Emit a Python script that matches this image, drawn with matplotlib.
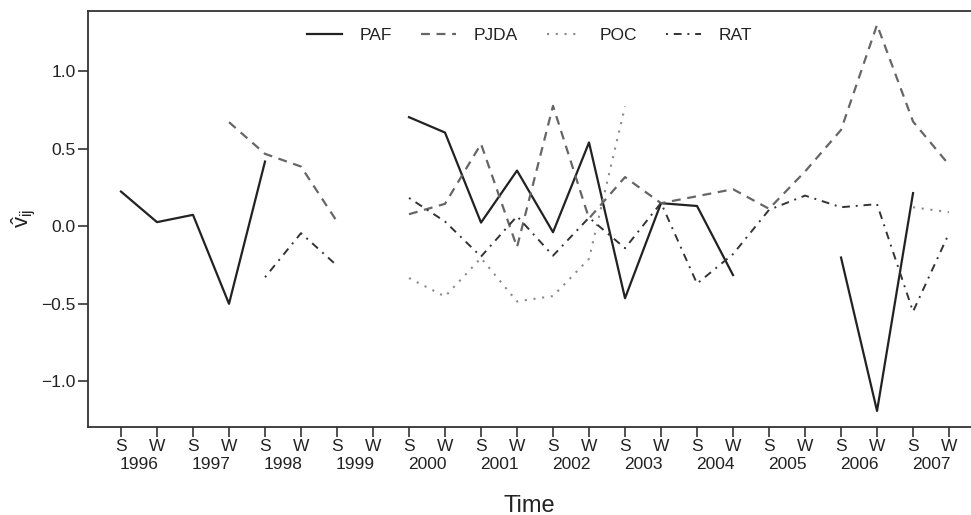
import numpy as np
import matplotlib
matplotlib.use("Agg")
import matplotlib.pyplot as plt
from matplotlib.transforms import blended_transform_factory

nan = np.nan
years = list(range(1996, 2008))
seasons = ["S", "W"]
tick_labels = [s for y in years for s in seasons]

PAF = [0.223, 0.026, 0.073, -0.50, 0.416, nan, nan, nan,
       0.702, 0.603, 0.023, 0.358, -0.039, 0.539, -0.464, 0.148,
       0.130, -0.315, nan, nan, -0.202, -1.19, 0.213, nan]
PJDA = [nan, nan, nan, 0.67, 0.466, 0.384, 0.03, nan,
        0.077, 0.144, 0.53, -0.135, 0.775, 0.05, 0.316, 0.148,
        0.193, 0.238, 0.112, 0.352, 0.62, 1.297, 0.674, 0.395]
POC = [nan, nan, nan, nan, nan, nan, nan, nan,
       -0.334, -0.453, -0.205, -0.485, -0.45, -0.21, 0.771, nan,
       nan, nan, nan, nan, nan, nan, 0.122, 0.09]
RAT = [nan, nan, nan, nan, -0.329, -0.045, -0.254, nan,
       0.182, 0.03, -0.196, 0.064, -0.19, 0.055, -0.142, 0.15,
       -0.37, -0.18, 0.105, 0.197, 0.122, 0.142, -0.55, -0.045]

plt.rcParams['font.family'] = ['Liberation Sans', 'DejaVu Sans']
plt.rcParams['mathtext.fontset'] = 'custom'
plt.rcParams['mathtext.rm'] = 'Liberation Sans'
plt.rcParams['mathtext.it'] = 'Liberation Sans'

fig = plt.figure(figsize=(9.71, 5.15), dpi=100)
ax = fig.add_axes([0.0906, 0.171, 0.9094, 0.808])

x = np.arange(len(tick_labels))
ax.plot(x, PAF, color='#222222', lw=1.6, ls='-', label='PAF')
ax.plot(x, PJDA, color='#666666', lw=1.6, ls=(0, (4, 3)), label='PJDA')
ax.plot(x, POC, color='#8a8a8a', lw=1.5, ls=(0, (1, 3.2)), label='POC')
ax.plot(x, RAT, color='#333333', lw=1.4, ls=(0, (1, 3, 4, 3)), label='RAT')

fs = 12.5
ax.set_xlim(-0.917, 23.61)
ax.set_ylim(-1.293, 1.387)
ax.set_xticks(x)
ax.set_xticklabels(tick_labels, fontsize=fs, color='#222222')
ax.set_yticks([-1.0, -0.5, 0.0, 0.5, 1.0])
ax.set_yticklabels(['\u22121.0', '\u22120.5', '0.0', '0.5', '1.0'], fontsize=fs, color='#222222')
ax.tick_params(axis='both', direction='out', length=7, width=1.2, color='#333333', pad=2)
ax.tick_params(axis='x', pad=2)

trans = blended_transform_factory(ax.transData, ax.transAxes)
for i, yr in enumerate(years):
    ax.text(2 * i + 0.5, -0.072, str(yr), transform=trans, ha='center', va='top',
            fontsize=fs, color='#222222')

for s in ['left', 'bottom', 'top']:
    ax.spines[s].set_linewidth(1.3)
    ax.spines[s].set_color('#333333')
ax.spines['right'].set_visible(False)

ax.set_xlabel('Time', fontsize=17, color='#222222', labelpad=29)
ax.set_ylabel(r'$\hat{v}_{ij}$', fontsize=16, color='#222222', labelpad=3)

leg = ax.legend(loc='upper center', bbox_to_anchor=(0.5, 0.997), ncol=4, frameon=False,
                fontsize=fs, handlelength=2.0, columnspacing=1.7, handletextpad=1.0)
for t in leg.get_texts():
    t.set_color('#222222')

fig.savefig('out.png', dpi=100)
